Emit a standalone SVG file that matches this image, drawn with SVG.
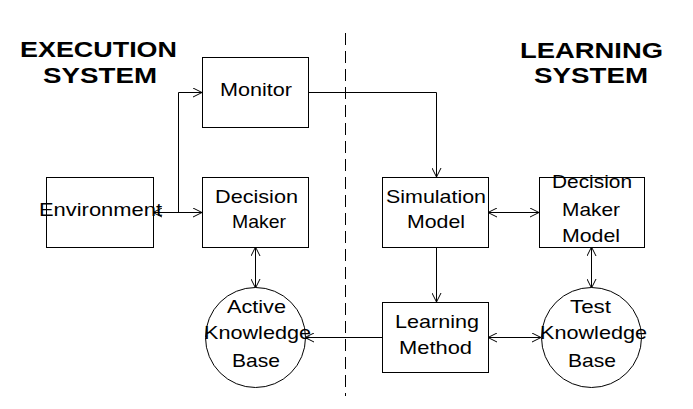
<svg xmlns="http://www.w3.org/2000/svg" width="693" height="409" viewBox="0 0 693 409">
<defs>
<style>
.box{fill:#fff;stroke:#000;stroke-width:1}
.ln{fill:none;stroke:#000;stroke-width:1}
.t{font-family:"Liberation Sans",Arial,sans-serif;font-size:18.5px;fill:#000}
.h{font-family:"Liberation Sans",Arial,sans-serif;font-size:22px;font-weight:bold;fill:#000}
</style>
<marker id="ah" viewBox="0 0 9 10" refX="9" refY="5" markerWidth="9" markerHeight="10" markerUnits="userSpaceOnUse" orient="auto-start-reverse">
<path d="M0,0.5 L9,5 L0,9.5" fill="none" stroke="#000" stroke-width="1"/>
</marker>
</defs>
<rect width="693" height="409" fill="#fff"/>
<g id="titles">
<text class="h" x="20" y="57" textLength="157" lengthAdjust="spacingAndGlyphs">EXECUTION</text>
<text class="h" x="43" y="83" textLength="114" lengthAdjust="spacingAndGlyphs">SYSTEM</text>
<text class="h" x="520" y="58" textLength="143" lengthAdjust="spacingAndGlyphs">LEARNING</text>
<text class="h" x="534" y="83" textLength="114" lengthAdjust="spacingAndGlyphs">SYSTEM</text>
</g>
<line id="divider" x1="345.5" y1="33" x2="345.5" y2="396" stroke="#000" stroke-width="1" stroke-dasharray="12 6"/>
<g id="connectors">
<line class="ln" x1="153" y1="212.5" x2="202" y2="212.5" marker-start="url(#ah)" marker-end="url(#ah)"/>
<polyline class="ln" points="178.5,212.5 178.5,92.5 202,92.5" marker-end="url(#ah)"/>
<polyline class="ln" points="308,92.5 436.5,92.5 436.5,177" marker-end="url(#ah)"/>
<line class="ln" x1="488" y1="212.5" x2="539" y2="212.5" marker-start="url(#ah)" marker-end="url(#ah)"/>
<line class="ln" x1="436.5" y1="247" x2="436.5" y2="302" marker-end="url(#ah)"/>
<line class="ln" x1="255.5" y1="247" x2="255.5" y2="288" marker-start="url(#ah)" marker-end="url(#ah)"/>
<line class="ln" x1="591.5" y1="247" x2="591.5" y2="288" marker-start="url(#ah)" marker-end="url(#ah)"/>
<line class="ln" x1="382" y1="337.5" x2="305" y2="337.5" marker-end="url(#ah)"/>
<line class="ln" x1="488" y1="337.5" x2="541" y2="337.5" marker-start="url(#ah)" marker-end="url(#ah)"/>
</g>
<g id="monitor">
<rect class="box" x="202.5" y="57.5" width="106" height="70"/>
<text class="t" x="220" y="96" textLength="72" lengthAdjust="spacingAndGlyphs">Monitor</text>
</g>
<g id="environment">
<rect class="box" x="46.5" y="177.5" width="107" height="70"/>
<text class="t" x="39" y="216" textLength="123" lengthAdjust="spacingAndGlyphs">Environment</text>
</g>
<g id="decision-maker">
<rect class="box" x="202.5" y="177.5" width="106" height="70"/>
<text class="t" x="215" y="203" textLength="83" lengthAdjust="spacingAndGlyphs">Decision</text>
<text class="t" x="232" y="228" textLength="54" lengthAdjust="spacingAndGlyphs">Maker</text>
</g>
<g id="simulation-model">
<rect class="box" x="382.5" y="177.5" width="106" height="70"/>
<text class="t" x="386" y="203" textLength="100" lengthAdjust="spacingAndGlyphs">Simulation</text>
<text class="t" x="407" y="228" textLength="58" lengthAdjust="spacingAndGlyphs">Model</text>
</g>
<g id="decision-maker-model">
<rect class="box" x="539.5" y="177.5" width="105" height="70"/>
<text class="t" x="552" y="188" textLength="80" lengthAdjust="spacingAndGlyphs">Decision</text>
<text class="t" x="562" y="216" textLength="58" lengthAdjust="spacingAndGlyphs">Maker</text>
<text class="t" x="562" y="242" textLength="58" lengthAdjust="spacingAndGlyphs">Model</text>
</g>
<g id="learning-method">
<rect class="box" x="382.5" y="302.5" width="106" height="70"/>
<text class="t" x="395" y="328" textLength="84" lengthAdjust="spacingAndGlyphs">Learning</text>
<text class="t" x="399" y="354" textLength="73" lengthAdjust="spacingAndGlyphs">Method</text>
</g>
<g id="active-knowledge-base">
<circle class="box" cx="255.5" cy="337.5" r="50"/>
<text class="t" x="227" y="313" textLength="59" lengthAdjust="spacingAndGlyphs">Active</text>
<text class="t" x="204" y="339" textLength="107" lengthAdjust="spacingAndGlyphs">Knowledge</text>
<text class="t" x="232" y="367" textLength="48" lengthAdjust="spacingAndGlyphs">Base</text>
</g>
<g id="test-knowledge-base">
<circle class="box" cx="591.5" cy="337.5" r="50"/>
<text class="t" x="570" y="313" textLength="41" lengthAdjust="spacingAndGlyphs">Test</text>
<text class="t" x="540" y="339" textLength="107" lengthAdjust="spacingAndGlyphs">Knowledge</text>
<text class="t" x="568" y="367" textLength="48" lengthAdjust="spacingAndGlyphs">Base</text>
</g>
</svg>
